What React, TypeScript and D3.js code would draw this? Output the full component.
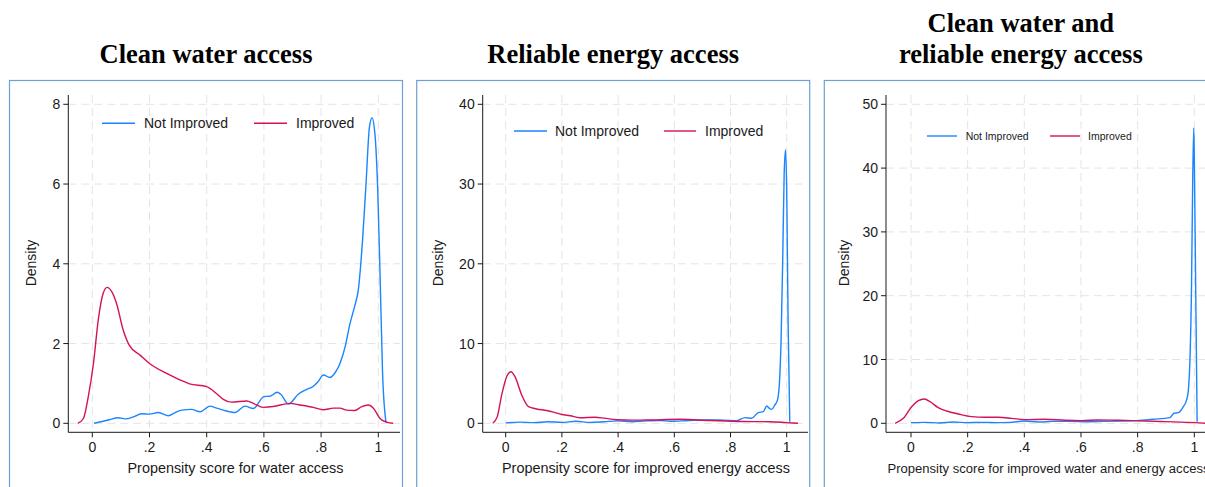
import React from "react";
import * as d3 from "d3";

type Pt = [number, number];

const xTicks = [0, 0.2, 0.4, 0.6, 0.8, 1];
const xTickLabels = ["0", ".2", ".4", ".6", ".8", "1"];

const waterYTicks = [0, 2, 4, 6, 8];
const energyYTicks = [0, 10, 20, 30, 40];
const bothYTicks = [0, 10, 20, 30, 40, 50];

const seriesNames = ["Not Improved", "Improved"];
const titles = [["Clean water access"], ["Reliable energy access"], ["Clean water and", "reliable energy access"]];
const xTitles = [
  "Propensity score for water access",
  "Propensity score for improved energy access",
  "Propensity score for improved water and energy access",
];

const waterNotImproved: Pt[] = [
  [0.006, 0], [0.03, 0.04], [0.06, 0.09], [0.09, 0.14], [0.12, 0.11], [0.15, 0.18], [0.173, 0.24],
  [0.2, 0.23], [0.231, 0.27], [0.266, 0.19], [0.29, 0.27], [0.313, 0.33], [0.347, 0.35], [0.377, 0.29],
  [0.411, 0.43], [0.435, 0.38], [0.458, 0.33], [0.499, 0.27], [0.534, 0.43], [0.563, 0.37], [0.6, 0.67],
  [0.621, 0.68], [0.647, 0.78], [0.66, 0.72], [0.686, 0.48], [0.72, 0.73], [0.75, 0.85], [0.773, 0.93],
  [0.79, 1.05], [0.808, 1.21], [0.831, 1.15], [0.85, 1.28], [0.866, 1.5], [0.885, 1.95], [0.901, 2.5],
  [0.918, 2.95], [0.93, 3.34], [0.945, 4.6], [0.957, 6.0], [0.969, 7.43], [0.978, 7.66], [0.988, 7.27],
  [0.998, 5.85], [1.006, 3.76], [1.015, 1.25], [1.027, 0.02],
];
const waterImproved: Pt[] = [
  [-0.051, 0], [-0.031, 0.12], [-0.014, 0.67], [0.004, 1.5], [0.021, 2.6], [0.038, 3.26], [0.052, 3.41],
  [0.068, 3.3], [0.085, 3.0], [0.108, 2.34], [0.129, 1.96], [0.167, 1.71], [0.2, 1.5], [0.26, 1.25],
  [0.306, 1.09], [0.34, 0.99], [0.4, 0.92], [0.435, 0.74], [0.458, 0.6], [0.487, 0.53], [0.54, 0.56],
  [0.563, 0.5], [0.598, 0.4], [0.633, 0.42], [0.69, 0.5], [0.726, 0.46], [0.773, 0.4], [0.808, 0.34],
  [0.843, 0.38], [0.866, 0.38], [0.889, 0.33], [0.918, 0.32], [0.942, 0.42], [0.965, 0.46], [0.983, 0.38],
  [1.006, 0.12], [1.029, 0.03], [1.052, 0],
];

const energyNotImproved: Pt[] = [
  [0, 0.05], [0.05, 0.15], [0.1, 0.08], [0.15, 0.2], [0.2, 0.12], [0.25, 0.25], [0.3, 0.12], [0.35, 0.2],
  [0.4, 0.3], [0.45, 0.2], [0.5, 0.3], [0.55, 0.35], [0.585, 0.25], [0.65, 0.35], [0.703, 0.42],
  [0.774, 0.4], [0.822, 0.33], [0.852, 0.71], [0.875, 0.63], [0.899, 1.34], [0.917, 1.46], [0.929, 2.17],
  [0.938, 1.88], [0.946, 1.75], [0.958, 2.3], [0.967, 2.9], [0.974, 5.0], [0.98, 10.4], [0.986, 20.9],
  [0.991, 31.3], [0.996, 34.3], [1.0, 29.3], [1.005, 12.5], [1.011, 0.2],
];
const energyImproved: Pt[] = [
  [-0.046, 0], [-0.03, 0.84], [-0.014, 3.6], [0.004, 5.9], [0.019, 6.47], [0.033, 5.85], [0.057, 3.55],
  [0.081, 2.09], [0.11, 1.8], [0.146, 1.6], [0.17, 1.4], [0.199, 1.1], [0.23, 0.95], [0.264, 0.7],
  [0.318, 0.75], [0.35, 0.65], [0.394, 0.45], [0.45, 0.4], [0.5, 0.41], [0.62, 0.5], [0.727, 0.35],
  [0.846, 0.22], [0.94, 0.2], [1.0, 0.08], [1.04, 0],
];

const bothNotImproved: Pt[] = [
  [0, 0.1], [0.05, 0.15], [0.1, 0.05], [0.15, 0.2], [0.2, 0.1], [0.25, 0.15], [0.3, 0.1], [0.35, 0.15],
  [0.4, 0.35], [0.45, 0.2], [0.5, 0.3], [0.561, 0.3], [0.62, 0.25], [0.679, 0.3], [0.74, 0.35],
  [0.797, 0.42], [0.855, 0.63], [0.914, 0.89], [0.928, 1.57], [0.944, 1.67], [0.961, 2.6], [0.973, 3.66],
  [0.979, 5.2], [0.985, 10.4], [0.99, 20.9], [0.994, 36.6], [0.998, 46.3], [1.0, 41.8], [1.005, 20.9],
  [1.01, 0.26],
];
const bothImproved: Pt[] = [
  [-0.056, 0], [-0.027, 0.78], [0.002, 2.6], [0.026, 3.55], [0.047, 3.81], [0.067, 3.4], [0.096, 2.46],
  [0.126, 1.93], [0.167, 1.46], [0.214, 1.04], [0.261, 0.94], [0.308, 0.94], [0.355, 0.78], [0.402, 0.57],
  [0.473, 0.63], [0.544, 0.47], [0.602, 0.42], [0.661, 0.52], [0.72, 0.48], [0.779, 0.42], [0.896, 0.26],
  [1.002, 0.1], [1.04, 0],
];

const BLUE = "#1a85ff";
const RED = "#d41159";
const BORDER = "#709fd8";
const GRID = "#e4e4e4";
const INK = "#1a1a1a";
const SANS = "'Liberation Sans', Arial, sans-serif";
const SERIF = "'Liberation Serif', 'Times New Roman', serif";

interface PanelCfg {
  bx: number;
  axisL: number;
  axisR: number;
  x0: number;
  x1: number;
  yTicks: number[];
  data: [Pt[], Pt[]];
  legY: number;
  legFont: number;
  leg: [number, number, number, number, number, number];
  densityX: number;
  xTitleCx: number;
  xTitleFont: number;
}

const panels: PanelCfg[] = [
  {
    bx: 9.5, axisL: 68.3, axisR: 400, x0: 92.3, x1: 378.3, yTicks: waterYTicks,
    data: [waterNotImproved, waterImproved], legY: 123.3, legFont: 14,
    leg: [102, 135, 144, 254, 287, 296], densityX: 31, xTitleCx: 235.5, xTitleFont: 14.4,
  },
  {
    bx: 416.7, axisL: 482.7, axisR: 808, x0: 505.7, x1: 786.7, yTicks: energyYTicks,
    data: [energyNotImproved, energyImproved], legY: 131, legFont: 14,
    leg: [514, 547, 555, 664, 696, 705], densityX: 438, xTitleCx: 646, xTitleFont: 14.4,
  },
  {
    bx: 824.3, axisL: 886, axisR: 1216, x0: 911, x1: 1194.3, yTicks: bothYTicks,
    data: [bothNotImproved, bothImproved], legY: 136, legFont: 10.5,
    leg: [927, 957, 965.7, 1050, 1080, 1088], densityX: 844.3, xTitleCx: 1048.5, xTitleFont: 13.05,
  },
];

const Y0 = 423.3;
const YTOP_TICK = 104.3;
const AXIS_TOP = 95;
const AXIS_Y = 432.3;

function Panel({ cfg, idx }: { cfg: PanelCfg; idx: number }) {
  const x = d3.scaleLinear().domain([0, 1]).range([cfg.x0, cfg.x1]);
  const yMax = cfg.yTicks[cfg.yTicks.length - 1];
  const y = d3.scaleLinear().domain([0, yMax]).range([Y0, YTOP_TICK]);
  const line = d3
    .line<Pt>()
    .x((d) => x(d[0]))
    .y((d) => y(d[1]))
    .curve(d3.curveMonotoneX);
  const colors = [BLUE, RED];
  const title = titles[idx];
  const cx = cfg.bx + 196.5;
  return (
    <g>
      {title.map((t, i) => (
        <text
          key={i}
          x={cx}
          y={title.length === 1 ? 63.3 : 31.7 + i * 31.6}
          textAnchor="middle"
          fontFamily={SERIF}
          fontWeight="bold"
          fontSize={26.5}
          fill="#000"
        >
          {t}
        </text>
      ))}
      <rect x={cfg.bx} y={80.5} width={393} height={420} fill="#fff" stroke={BORDER} strokeWidth={1.2} />
      {cfg.yTicks.map((t) => (
        <line key={"gy" + t} x1={cfg.axisL} x2={cfg.axisR} y1={y(t)} y2={y(t)} stroke={GRID} strokeWidth={1} strokeDasharray="8,5" />
      ))}
      {xTicks.map((t) => (
        <line key={"gx" + t} x1={x(t)} x2={x(t)} y1={AXIS_TOP} y2={AXIS_Y} stroke={GRID} strokeWidth={1} strokeDasharray="8,5" />
      ))}
      {cfg.data.map((d, i) => (
        <path key={"c" + i} d={line(d) || ""} fill="none" stroke={colors[i]} strokeWidth={1.4} strokeLinejoin="round" />
      ))}
      <line x1={cfg.axisL} x2={cfg.axisL} y1={AXIS_TOP} y2={AXIS_Y} stroke={INK} strokeWidth={1} />
      <line x1={cfg.axisL} x2={cfg.axisR} y1={AXIS_Y} y2={AXIS_Y} stroke={INK} strokeWidth={1} />
      {cfg.yTicks.map((t) => (
        <g key={"yt" + t}>
          <line x1={cfg.axisL - 5} x2={cfg.axisL} y1={y(t)} y2={y(t)} stroke={INK} strokeWidth={1} />
          <text x={cfg.axisL - 8} y={y(t) + 5} textAnchor="end" fontFamily={SANS} fontSize={14} fill={INK}>
            {t}
          </text>
        </g>
      ))}
      {xTicks.map((t, i) => (
        <g key={"xt" + t}>
          <line x1={x(t)} x2={x(t)} y1={AXIS_Y} y2={AXIS_Y + 5} stroke={INK} strokeWidth={1} />
          <text x={x(t)} y={452} textAnchor="middle" fontFamily={SANS} fontSize={14} fill={INK}>
            {xTickLabels[i]}
          </text>
        </g>
      ))}
      <text
        transform={`translate(${cfg.densityX + 5},263) rotate(-90)`}
        textAnchor="middle"
        fontFamily={SANS}
        fontSize={14}
        fill={INK}
      >
        Density
      </text>
      <text x={cfg.xTitleCx} y={473} textAnchor="middle" fontFamily={SANS} fontSize={cfg.xTitleFont} fill={INK}>
        {xTitles[idx]}
      </text>
      {seriesNames.map((n, i) => (
        <g key={"lg" + i}>
          <line
            x1={cfg.leg[i * 3]}
            x2={cfg.leg[i * 3 + 1]}
            y1={cfg.legY}
            y2={cfg.legY}
            stroke={colors[i]}
            strokeWidth={1.4}
          />
          <text
            x={cfg.leg[i * 3 + 2]}
            y={cfg.legY + cfg.legFont * 0.36}
            fontFamily={SANS}
            fontSize={cfg.legFont}
            fill={INK}
          >
            {n}
          </text>
        </g>
      ))}
    </g>
  );
}

export default function App() {
  return (
    <svg
      width={1205}
      height={487}
      viewBox="0 0 1205 487"
      style={{ position: "absolute", left: 0, top: 0, background: "#fff" }}
    >
      <rect x={0} y={0} width={1205} height={487} fill="#fff" />
      {panels.map((p, i) => (
        <Panel key={i} cfg={p} idx={i} />
      ))}
    </svg>
  );
}
